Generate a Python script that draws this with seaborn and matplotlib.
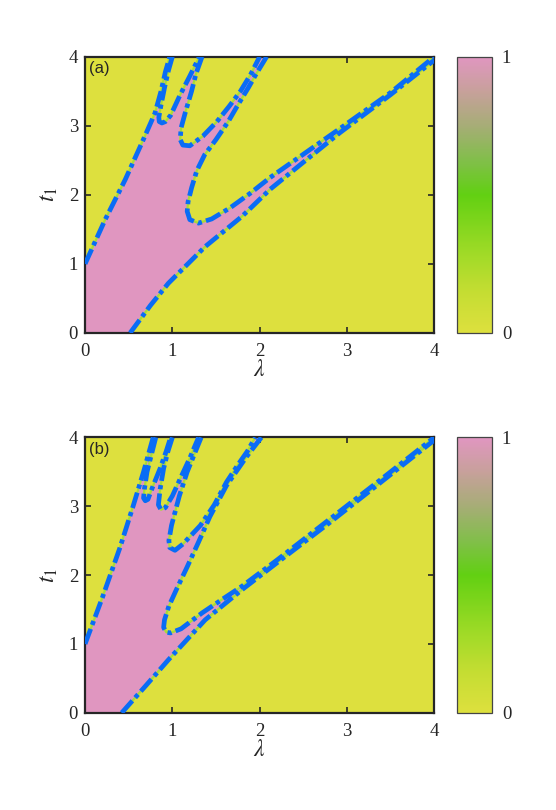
import numpy as np
import matplotlib
matplotlib.use('Agg')
import matplotlib.pyplot as plt
from matplotlib.colors import LinearSegmentedColormap
import seaborn as sns

# --- boundary curves (lambda, t1) ---
# panel (a)
a_left_lam = [0.0, 0.23, 0.46, 0.65, 0.80, 0.87, 0.92, 0.97]
a_left_t = [1.0, 1.64, 2.22, 2.75, 3.18, 3.50, 3.78, 4.0]
a_loop1_lam = [1.00, 0.955, 0.91, 0.87, 0.845, 0.85, 0.88, 0.92, 0.98, 1.09, 1.20, 1.31]
a_loop1_t = [4.0, 3.80, 3.55, 3.30, 3.12, 3.06, 3.04, 3.06, 3.15, 3.45, 3.72, 4.0]
a_loop2_lam = [1.34, 1.27, 1.22, 1.15, 1.10, 1.09, 1.12, 1.20, 1.35, 1.51, 1.65, 1.78, 1.90, 2.0]
a_loop2_t = [4.0, 3.75, 3.50, 3.20, 2.97, 2.80, 2.72, 2.71, 2.85, 3.06, 3.28, 3.50, 3.75, 4.0]
a_loop3_lam = [2.08, 1.96, 1.87, 1.75, 1.64, 1.50, 1.37, 1.28, 1.22, 1.18, 1.17, 1.20, 1.30,
               1.45, 1.66, 1.89, 2.12, 2.47, 2.92, 3.50, 4.0]
a_loop3_t = [4.0, 3.75, 3.55, 3.30, 3.06, 2.80, 2.58, 2.35, 2.10, 1.90, 1.76, 1.64, 1.59,
             1.65, 1.81, 2.02, 2.25, 2.56, 2.96, 3.48, 4.0]
a_low_lam = [0.516, 0.75, 0.955, 1.376, 1.80, 2.12, 2.47, 2.92, 3.50, 4.0]
a_low_t = [0.0, 0.40, 0.72, 1.25, 1.69, 2.08, 2.44, 2.90, 3.45, 3.95]

# panel (b)
b_left_lam = [0.0, 0.20, 0.40, 0.55, 0.67, 0.78]
b_left_t = [1.0, 1.68, 2.40, 3.00, 3.50, 4.0]
b_loop1_lam = [0.81, 0.75, 0.71, 0.68, 0.67, 0.69, 0.72, 0.78, 0.86, 0.93, 0.98]
b_loop1_t = [4.0, 3.70, 3.50, 3.25, 3.12, 3.08, 3.10, 3.30, 3.55, 3.80, 4.0]
b_loop2_lam = [1.00, 0.95, 0.90, 0.86, 0.84, 0.87, 0.92, 1.00, 1.09, 1.20, 1.30]
b_loop2_t = [4.0, 3.80, 3.55, 3.25, 3.02, 2.95, 2.98, 3.15, 3.40, 3.70, 4.0]
b_loop3_lam = [1.33, 1.25, 1.17, 1.08, 0.99, 0.96, 0.97, 1.03, 1.12, 1.32, 1.48, 1.62, 1.75, 1.86, 1.95]
b_loop3_t = [4.0, 3.75, 3.50, 3.15, 2.72, 2.50, 2.40, 2.36, 2.45, 2.72, 3.02, 3.35, 3.60, 3.80, 4.0]
b_loop4_lam = [2.02, 1.85, 1.62, 1.43, 1.30, 1.17, 1.05, 0.96, 0.91, 0.90, 0.93, 0.98, 1.10,
               1.34, 1.55, 1.80, 2.20, 2.80, 3.40, 4.0]
b_loop4_t = [4.0, 3.72, 3.30, 2.85, 2.48, 2.12, 1.80, 1.55, 1.35, 1.24, 1.17, 1.16, 1.22,
             1.45, 1.63, 1.84, 2.22, 2.81, 3.40, 4.0]
b_low_lam = [0.42, 0.70, 0.955, 1.376, 1.80, 2.20, 2.80, 3.40, 4.0]
b_low_t = [0.0, 0.40, 0.77, 1.35, 1.79, 2.18, 2.76, 3.36, 3.96]

ticks = [0, 1, 2, 3, 4]

# colour map: yellow (0) -> green -> pink (1)
cmap = LinearSegmentedColormap.from_list('ygp', [
    (0.0, '#dde03e'), (0.15, '#c4dd32'), (0.3, '#9cda26'), (0.5, '#62d012'),
    (0.62, '#80bf48'), (0.75, '#a6ad76'), (0.88, '#c8a09c'), (1.0, '#e096c0')])
line_blue = '#0a6cf5'
glow = '#a6dc38'

sns.set_theme(style='ticks')
plt.rcParams['font.family'] = ['Liberation Serif', 'DejaVu Serif']
plt.rcParams['mathtext.fontset'] = 'stix'

fig = plt.figure(figsize=(5.56, 8.10), dpi=100)
axes_pos = [[0.153, 0.589, 0.628, 0.341], [0.153, 0.120, 0.628, 0.340]]
cbar_pos = [[0.822, 0.589, 0.063, 0.341], [0.822, 0.120, 0.063, 0.340]]

panels = [
    ('(a)', (a_left_lam, a_left_t), [(a_loop1_lam, a_loop1_t), (a_loop2_lam, a_loop2_t),
                                    (a_loop3_lam, a_loop3_t)], (a_low_lam, a_low_t)),
    ('(b)', (b_left_lam, b_left_t), [(b_loop1_lam, b_loop1_t), (b_loop2_lam, b_loop2_t),
                                    (b_loop3_lam, b_loop3_t), (b_loop4_lam, b_loop4_t)],
     (b_low_lam, b_low_t)),
]

for i, (tag, left, loops, low) in enumerate(panels):
    ax = fig.add_axes(axes_pos[i])
    ax.set_facecolor(cmap(0.0))

    # pink region: left edge, upper-left line, loops, lower curve back to origin
    px = [0.0] + list(left[0])
    py = [0.0] + list(left[1])
    for lam, t in loops:
        px += list(lam)
        py += list(t)
    px += list(low[0])[::-1]
    py += list(low[1])[::-1]
    ax.fill(px, py, color=cmap(1.0), lw=0, zorder=1)

    curves = [left] + loops + [low]
    for lam, t in curves:
        sns.lineplot(x=lam, y=t, sort=False, estimator=None, color=glow, lw=1.6,
                     ax=ax, zorder=2)
        sns.lineplot(x=lam, y=t, sort=False, estimator=None, color=line_blue, lw=3.4,
                     linestyle=(0, (3.4, 0.9, 0.9, 0.9)), ax=ax, zorder=3)

    ax.set_xlim(0, 4)
    ax.set_ylim(0, 4)
    ax.set_xticks(ticks)
    ax.set_yticks(ticks)
    ax.tick_params(direction='in', length=4, width=1.2, top=True, right=True,
                   labelsize=13.5, colors='#262626')
    ax.tick_params(axis='x', pad=7)
    ax.tick_params(axis='y', pad=5)
    for s in ax.spines.values():
        s.set_linewidth(1.6)
        s.set_color('#262626')
    ax.set_xlabel(r'$\lambda$', fontsize=17, labelpad=0)
    ax.set_ylabel(r'$t_1$', fontsize=17, labelpad=6)
    ax.text(0.01, 0.985, tag, transform=ax.transAxes, ha='left', va='top',
            fontsize=12, family=['Liberation Sans', 'DejaVu Sans'], zorder=5)

    cax = fig.add_axes(cbar_pos[i])
    sm = plt.cm.ScalarMappable(cmap=cmap, norm=plt.Normalize(0, 1))
    cb = fig.colorbar(sm, cax=cax)
    cb.set_ticks([0, 1])
    cb.ax.tick_params(length=0, labelsize=13.5, pad=7)
    cb.outline.set_linewidth(0.9)
    cb.outline.set_edgecolor('#444444')

fig.savefig('out.png', dpi=100)
